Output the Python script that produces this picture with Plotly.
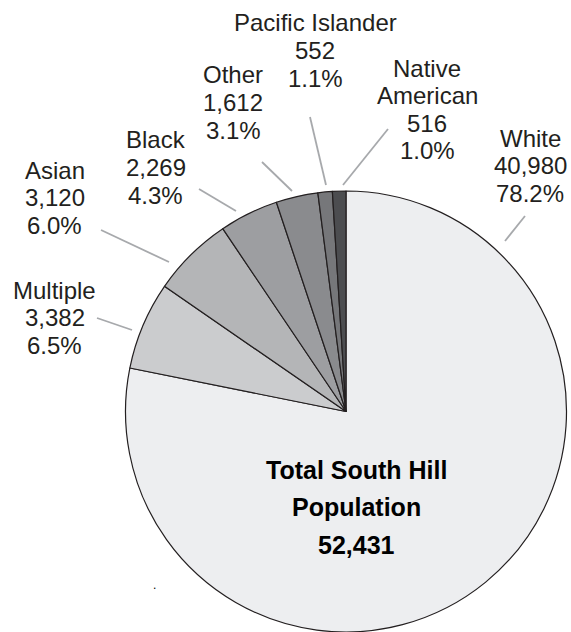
import plotly.graph_objects as go

# ---- data ----
categories = ["White", "Multiple", "Asian", "Black", "Other", "Pacific Islander", "Native American"]
values = [40980, 3382, 3120, 2269, 1612, 552, 516]
name_lines = [["White"], ["Multiple"], ["Asian"], ["Black"], ["Other"],
              ["Pacific Islander"], ["Native", "American"]]
center_title = ["Total South Hill", "Population"]

# ---- style / layout ----
W, H = 571, 632
colors = ["#EDEEF0", "#CBCCCE", "#B4B5B7", "#9D9EA1", "#8A8B8E", "#76777A", "#4C4D50"]
edge = "#231F20"
lead_col = "#A7A9AC"
font_fam = "Liberation Sans"
fs = 24
line_gap = 27.5

cx, cy, r = 346, 411.5, 220.5

# label anchor (center x, first line y) in pixels
label_pos = {
    "White": (530, 138),
    "Multiple": (55, 290),
    "Asian": (55, 170),
    "Black": (156, 140),
    "Other": (233, 75),
    "Pacific Islander": (315, 23),
    "Native American": (427, 68),
}
leaders = {
    "White": ((525, 216), (505, 241)),
    "Multiple": ((97, 318), (132, 330)),
    "Asian": ((101, 230), (169, 262)),
    "Black": ((199, 189), (236, 211)),
    "Other": ((262, 162), (292, 191)),
    "Pacific Islander": ((310, 117), (326, 185)),
    "Native American": ((388, 129), (343, 185)),
}


def px(x):
    return x / W


def py(y):
    return 1 - y / H


total = sum(values)

fig = go.Figure(go.Pie(
    labels=categories,
    values=values,
    sort=False,
    direction="clockwise",
    rotation=0,
    textinfo="none",
    hoverinfo="label+value+percent",
    marker=dict(colors=colors, line=dict(color=edge, width=1.2)),
    domain=dict(x=[px(cx - r), px(cx + r)], y=[py(cy + r), py(cy - r)]),
    showlegend=False,
))

annotations = []
shapes = []
for cat, v, nl in zip(categories, values, name_lines):
    lines = nl + [f"{v:,}", f"{v / total * 100:.1f}%"]
    x0, y0 = label_pos[cat]
    for i, t in enumerate(lines):
        annotations.append(dict(
            x=px(x0), y=py(y0 + i * line_gap), xref="paper", yref="paper",
            text=t, showarrow=False, xanchor="center", yanchor="middle",
            borderpad=0,
            font=dict(family=font_fam, size=fs, color="#231F20"),
        ))
    (ax, ay), (bx, by) = leaders[cat]
    shapes.append(dict(type="line", xref="paper", yref="paper",
                       x0=px(ax), y0=py(ay), x1=px(bx), y1=py(by),
                       line=dict(color=lead_col, width=1.8)))

ctr_lines = center_title + [f"{total:,}"]
for i, t in enumerate(ctr_lines):
    annotations.append(dict(
        x=px(356), y=py(470 + i * 37.5), xref="paper", yref="paper",
        text=f"<b>{t}</b>", showarrow=False, xanchor="center", yanchor="middle",
        font=dict(family=font_fam, size=25, color="#000000"),
    ))

# stray dot present in the original
annotations.append(dict(x=px(151), y=py(594), xref="paper", yref="paper", text=".",
                        showarrow=False, font=dict(family=font_fam, size=12, color="#000000")))

fig.update_layout(
    width=W, height=H,
    margin=dict(l=0, r=0, t=0, b=0),
    paper_bgcolor="white", plot_bgcolor="white",
    annotations=annotations, shapes=shapes,
)

fig.write_html("out.html",
               config={"displayModeBar": False},
               post_script="document.body.style.margin='0';document.body.style.overflow='hidden';")
